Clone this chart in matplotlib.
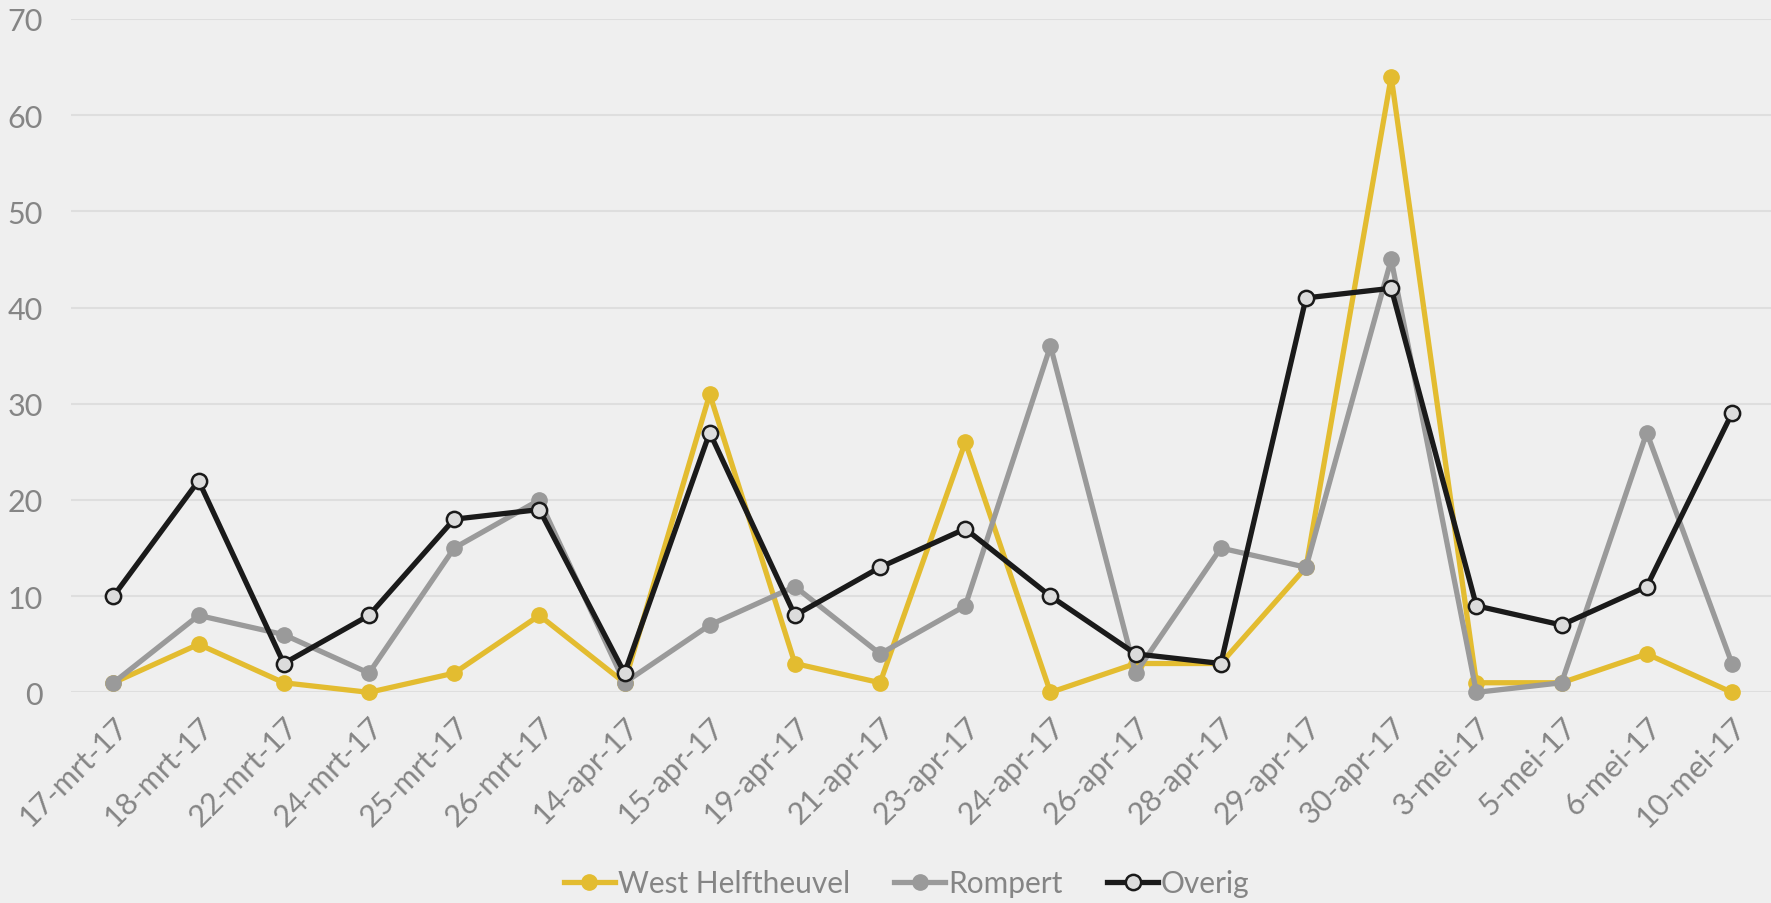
import matplotlib.pyplot as plt

dates = ["17-mrt-17", "18-mrt-17", "22-mrt-17", "24-mrt-17", "25-mrt-17", "26-mrt-17",
         "14-apr-17", "15-apr-17", "19-apr-17", "21-apr-17", "23-apr-17", "24-apr-17",
         "26-apr-17", "28-apr-17", "29-apr-17", "30-apr-17", "3-mei-17", "5-mei-17",
         "6-mei-17", "10-mei-17"]
west = [1, 5, 1, 0, 2, 8, 1, 31, 3, 1, 26, 0, 3, 3, 13, 64, 1, 1, 4, 0]
rompert = [1, 8, 6, 2, 15, 20, 1, 7, 11, 4, 9, 36, 2, 15, 13, 45, 0, 1, 27, 3]
overig = [10, 22, 3, 8, 18, 19, 2, 27, 8, 13, 17, 10, 4, 3, 41, 42, 9, 7, 11, 29]
y_ticks = [0, 10, 20, 30, 40, 50, 60, 70]

bg = "#efefef"
txt = "#858585"
plt.rcParams['font.family'] = ['Lato', 'DejaVu Sans']

fig = plt.figure(figsize=(17.71, 9.04), dpi=100, facecolor=bg)
ax = fig.add_axes([0.040, 0.233, 0.962, 0.745], facecolor=bg)

x = range(len(dates))
ax.plot(x, west, color="#e3bc30", lw=3.8, marker="o", ms=11, mfc="#e3bc30", mec="#e3bc30",
        label="West Helftheuvel", zorder=3)
ax.plot(x, rompert, color="#9a9a9a", lw=3.8, marker="o", ms=11, mfc="#9a9a9a", mec="#9a9a9a",
        label="Rompert", zorder=4)
ax.plot(x, overig, color="#1a1a1a", lw=3.8, marker="o", ms=11, mfc="#dcdcdc", mec="#1a1a1a",
        mew=1.8, label="Overig", zorder=5)

ax.set_xlim(-0.5, len(dates) - 0.5)
ax.set_ylim(0, 70)
ax.set_yticks(y_ticks)
ax.set_xticks(list(x))
ax.set_xticklabels(dates, rotation=45, ha="right", rotation_mode="anchor")
ax.tick_params(axis="both", length=0, labelsize=22, colors=txt)
ax.tick_params(axis="x", pad=14)
ax.tick_params(axis="y", pad=20)
ax.grid(axis="y", color="#dedede", lw=1.5)
ax.set_axisbelow(True)
for s in ax.spines.values():
    s.set_visible(False)
for line in ax.lines:
    line.set_clip_on(False)

fig.legend(loc="center", bbox_to_anchor=(0.512, 0.022), ncol=3, frameon=False,
           fontsize=21.5, labelcolor=txt, handlelength=1.7, handletextpad=0.1,
           columnspacing=1.5)

fig.savefig("out.png", dpi=100, facecolor=bg)
